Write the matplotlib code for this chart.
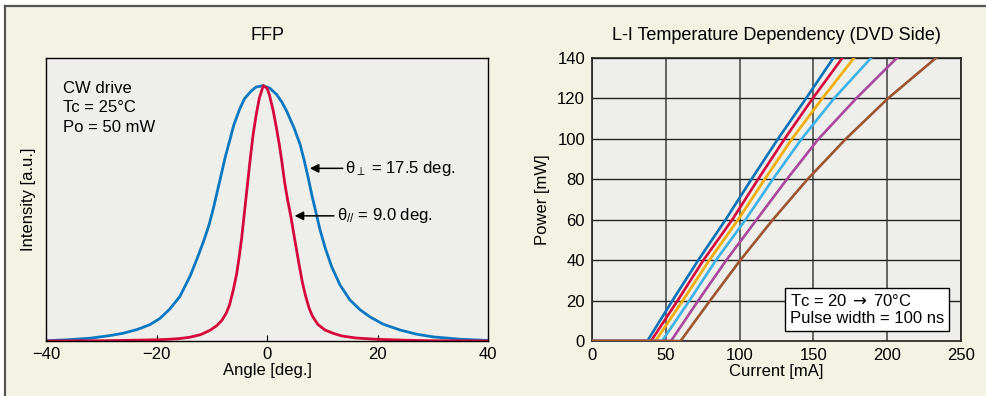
import matplotlib
matplotlib.use("Agg")
import matplotlib.pyplot as plt
from matplotlib.lines import Line2D
from matplotlib.patches import Rectangle

plt.rcParams['font.family'] = ['Liberation Sans', 'DejaVu Sans']
plt.rcParams['mathtext.fontset'] = 'custom'
plt.rcParams['mathtext.rm'] = 'Liberation Sans'
plt.rcParams['mathtext.it'] = 'Liberation Sans:italic'
plt.rcParams['mathtext.sf'] = 'DejaVu Sans'
plt.rcParams['mathtext.fallback'] = 'stixsans'

# --- FFP data ---
perp_angle = [-40, -36, -32, -28.5, -26.1, -23.5, -21.2, -19.4, -17.6, -15.75, -13.9,
              -12.7, -11.5, -10.5, -9.7, -9.0, -8.3, -7.6, -6.8, -6.0, -5.0, -4.1,
              -2.9, -2.0, -0.7, 0.5, 1.75, 2.7, 3.56, 4.9, 6.0, 6.7, 7.4, 8.1, 8.9,
              9.6, 10.6, 11.7, 13.2, 15.0, 16.8, 18.6, 21.0, 24.1, 27.0, 30.1, 35.0, 40]
perp_int = [0.001, 0.005, 0.011, 0.021, 0.03, 0.045, 0.064, 0.088, 0.125, 0.175, 0.255,
            0.32, 0.389, 0.454, 0.52, 0.585, 0.65, 0.716, 0.781, 0.846, 0.905, 0.948,
            0.978, 0.994, 1.0, 0.99, 0.965, 0.935, 0.90, 0.834, 0.769, 0.71, 0.645, 0.573, 0.5,
            0.435, 0.36, 0.291, 0.22, 0.161, 0.123, 0.095, 0.066, 0.043, 0.027, 0.016, 0.007, 0.002]

par_angle = [-40, -30, -24, -19.4, -16, -13.9, -12, -10.3, -9.1, -8.2, -7.4, -6.8,
             -6.1, -5.5, -5.07, -4.6, -4.2, -3.8, -3.4, -3.0, -2.5, -2.0, -1.4, -0.67,
             0.0, 0.42, 1.14, 1.7, 2.23, 2.7, 3.2, 3.75, 4.3, 5.0, 5.8, 6.4, 7.0, 7.6,
             8.2, 9.2, 10.5, 12.0, 13.5, 16.0, 19.5, 25.0, 30.0, 40]
par_int = [0.0, 0.001, 0.003, 0.005, 0.009, 0.015, 0.025, 0.042, 0.06, 0.08, 0.108, 0.14,
           0.2, 0.262, 0.324, 0.40, 0.48, 0.56, 0.64, 0.72, 0.81, 0.88, 0.95, 1.0,
           0.99, 0.965, 0.90, 0.835, 0.769, 0.70, 0.62, 0.55, 0.49, 0.40, 0.30, 0.23, 0.175, 0.13,
           0.098, 0.065, 0.043, 0.03, 0.02, 0.012, 0.007, 0.003, 0.001, 0.0]

# --- L-I data, Tc = 20 -> 70 C ---
li_power = [0, 0, 20, 40, 60, 80, 100, 120, 140]
li_currents = [
    [0, 37.5, 54.5, 72.0, 90.5, 108.0, 126.0, 145.0, 163.5],
    [0, 40.0, 58.0, 75.5, 95.0, 112.5, 130.5, 149.5, 169.6],
    [0, 43.0, 61.5, 79.5, 99.0, 117.0, 135.5, 156.0, 177.5],
    [0, 47.5, 66.0, 84.0, 104.0, 122.5, 142.0, 164.0, 189.0],
    [0, 53.5, 72.0, 91.0, 111.5, 132.0, 153.5, 179.0, 206.5],
    [0, 60.0, 80.0, 100.5, 122.5, 146.0, 172.0, 200.5, 233.0],
]
li_colors = ['#0a72b8', '#d5083c', '#f2ad00', '#3db2e6', '#a8479c', '#9c5530']

fig = plt.figure(figsize=(9.87, 3.96), dpi=100)
fig.patch.set_facecolor('white')
W, H = 987.0, 396.0

# cream panel with frame on top and left
fig.add_artist(Rectangle((5 / W, 0), 1, 1 - 6 / H, transform=fig.transFigure,
                         facecolor='#f4f2e2', edgecolor='none', zorder=-10))
fig.add_artist(Line2D([5 / W, 1], [1 - 6 / H, 1 - 6 / H], color='#555555', lw=1.6, zorder=-5))
fig.add_artist(Line2D([5 / W, 5 / W], [0, 1 - 6 / H], color='#555555', lw=1.6, zorder=-5))

axbg = '#eeeeea'
fs = 12
tfs = 13

# ---- left: FFP ----
ax1 = fig.add_axes([46 / W, 1 - 341 / H, 442 / W, 283 / H])
ax1.set_facecolor(axbg)
ax1.plot(perp_angle, perp_int, color='#0a78c0', lw=2.0, solid_joinstyle='round')
ax1.plot(par_angle, par_int, color='#d5083c', lw=2.0, solid_joinstyle='round')
ax1.set_xlim(-40, 40)
ax1.set_ylim(0, 1.108)
ax1.set_xticks([-40, -20, 0, 20, 40])
ax1.set_yticks([])
ax1.tick_params(axis='x', direction='in', length=4, width=0.8, labelsize=fs, pad=4)
for s in ax1.spines.values():
    s.set_linewidth(1.0)
ax1.set_title('FFP', fontsize=tfs, pad=13)
ax1.set_xlabel('Angle [deg.]', fontsize=fs, labelpad=1)
ax1.set_ylabel('Intensity [a.u.]', fontsize=fs, labelpad=7)

ax1.text(0.038, 0.92, 'CW drive\nTc = 25\u00b0C\nPo = 50 mW', transform=ax1.transAxes,
         ha='left', va='top', fontsize=fs, linespacing=1.4)

arrow = dict(arrowstyle='-|>', color='k', lw=1.1, mutation_scale=13,
             shrinkA=0, shrinkB=0, relpos=(0, 0.5))
ax1.annotate('\u03b8$_{\\perp}$ = 17.5 deg.', xy=(7.75, 0.676), xytext=(14.2, 0.676),
             ha='left', va='center', fontsize=fs, arrowprops=arrow)
ax1.annotate('\u03b8$_{//}$ = 9.0 deg.', xy=(5.0, 0.49), xytext=(12.6, 0.49),
             ha='left', va='center', fontsize=fs, arrowprops=arrow)

# ---- right: L-I ----
ax2 = fig.add_axes([592 / W, 1 - 341 / H, 369 / W, 283 / H])
ax2.set_facecolor(axbg)
for cur, col in zip(li_currents, li_colors):
    ax2.plot(cur, li_power, color=col, lw=1.9, zorder=3)
ax2.set_xlim(0, 250)
ax2.set_ylim(0, 140)
ax2.set_xticks([0, 50, 100, 150, 200, 250])
ax2.set_yticks([0, 20, 40, 60, 80, 100, 120, 140])
ax2.xaxis.grid(True, color='#5a5a5a', lw=1.3)
ax2.yaxis.grid(True, color='#222222', lw=1.0)
ax2.set_axisbelow(True)
ax2.tick_params(length=0, labelsize=fs, pad=5)
for s in ax2.spines.values():
    s.set_linewidth(1.2)
    s.set_color('#222222')
ax2.set_title('L-I Temperature Dependency (DVD Side)', fontsize=tfs, pad=13)
ax2.set_xlabel('Current [mA]', fontsize=fs, labelpad=1)
ax2.set_ylabel('Power [mW]', fontsize=fs, labelpad=5)

ax2.text(0.537, 0.112, 'Tc = 20$\\;\\mathsf{\\rightarrow}\\;$70\u00b0C\nPulse width = 100 ns',
         transform=ax2.transAxes, ha='left', va='center', fontsize=fs, linespacing=1.2,
         zorder=5, bbox=dict(boxstyle='square,pad=0.3', fc='white', ec='black', lw=1.0))

fig.savefig('out.png', dpi=100, facecolor=fig.get_facecolor())
